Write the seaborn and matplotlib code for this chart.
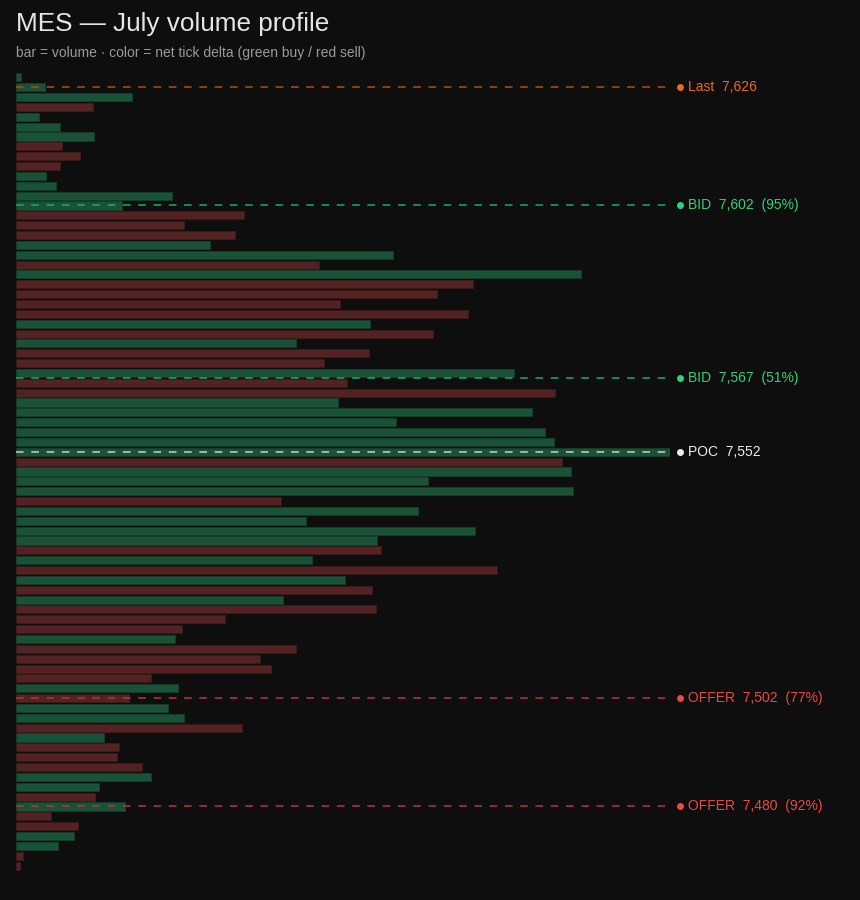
import matplotlib
matplotlib.use("Agg")
import matplotlib.pyplot as plt
import matplotlib.transforms as mtransforms
import matplotlib.colors as mcolors
import seaborn as sns
import pandas as pd
import numpy as np

# ---- data ----
top_price = 7628
price_step = 2
volumes = [5, 29, 116, 77, 23, 44, 78, 46, 64, 44,
           30, 40, 156, 106, 228, 168, 219, 194, 377, 303,
           565, 457, 421, 324, 452, 354, 417, 280, 353, 308,
           498, 331, 539, 322, 516, 380, 529, 538, 654, 546,
           555, 412, 557, 265, 402, 290, 459, 361, 365, 296,
           481, 329, 356, 267, 360, 209, 166, 159, 280, 244,
           255, 135, 162, 113, 152, 168, 226, 88, 103, 101,
           126, 135, 83, 79, 109, 35, 62, 58, 42, 7, 4]
sides = list("bbbsbbbsss" "bbbbsssbbs" "bssssbsbss" "bssbbbbbbs"
             "bbbsbbbbsb" "sbsbsssbss" "ssbsbbsbss" "sbbsbssbbs" "s")
prices = [top_price - price_step * i for i in range(len(volumes))]

level_names = ["Last", "BID", "BID", "POC", "OFFER", "OFFER"]
level_prices = [7626, 7602, 7567, 7552, 7502, 7480]
level_pcts = [None, 95, 51, None, 77, 92]
level_colors = ["#f0661c", "#2fd27a", "#2fd27a", "#ececec", "#ec4848", "#ec4848"]
line_colors = ["#b04e18", "#21a862", "#21a862", "#cfcfcf", "#b83636", "#b83636"]

title = "MES \u2014 July volume profile"
subtitle = "bar = volume \u00b7 color = net tick delta (green buy / red sell)"

# ---- build frame ----
df = pd.DataFrame({
    "price": prices,
    "volume": volumes,
    "side": ["buy" if s == "b" else "sell" for s in sides],
})

bg = "#0e0e0e"
sns.set_theme(style="dark")
plt.rcParams["font.family"] = ["Liberation Sans", "DejaVu Sans"]

fig = plt.figure(figsize=(8.6, 9.0), dpi=100, facecolor=bg)
ax = fig.add_axes([16 / 860, 29 / 900, 654 / 860, 799 / 900])
ax.set_facecolor(bg)

palette = {"buy": "#1a5238", "sell": "#532222"}
sns.barplot(data=df, x="volume", y="price", hue="side", palette=palette,
            orient="h", native_scale=True, dodge=False, width=0.82,
            saturation=1, legend=False, ax=ax, linewidth=0.6)

for p in ax.patches:
    fc = np.array(mcolors.to_rgb(p.get_facecolor()))
    p.set_edgecolor(tuple(fc * 0.75))

ax.set_xlim(0, max(volumes))
ax.set_ylim(bottom=7466.9, top=7629.1)
ax.set_xlabel("")
ax.set_ylabel("")
ax.set_xticks([])
ax.set_yticks([])
ax.grid(False)
for s in ax.spines.values():
    s.set_visible(False)

trans = mtransforms.blended_transform_factory(ax.transAxes, ax.transData)
px = 1.0 / 654.0
for name, lp, pct, c, lc in zip(level_names, level_prices, level_pcts,
                                level_colors, line_colors):
    ax.axhline(lp, 0, 1, color=lc, lw=1.1, ls=(0, (5, 5)), zorder=5)
    ax.plot([1 + 10 * px], [lp], "o", ms=4.0, color=c, transform=trans,
            clip_on=False, zorder=6)
    label = f"{name}  {lp:,}"
    if pct is not None:
        label += f"  ({pct}%)"
    ax.text(1 + 18 * px, lp, label, transform=trans, color=c, fontsize=10.0,
            va="center", ha="left", clip_on=False)

fig.text(16 / 860, 1 - 24 / 900, title, color="#e6e6e6", fontsize=18.8,
         va="center", ha="left")
fig.text(16 / 860, 1 - 53 / 900, subtitle, color="#9a9a9a", fontsize=10.0,
         va="center", ha="left")

fig.savefig("out.png", dpi=100, facecolor=bg)
